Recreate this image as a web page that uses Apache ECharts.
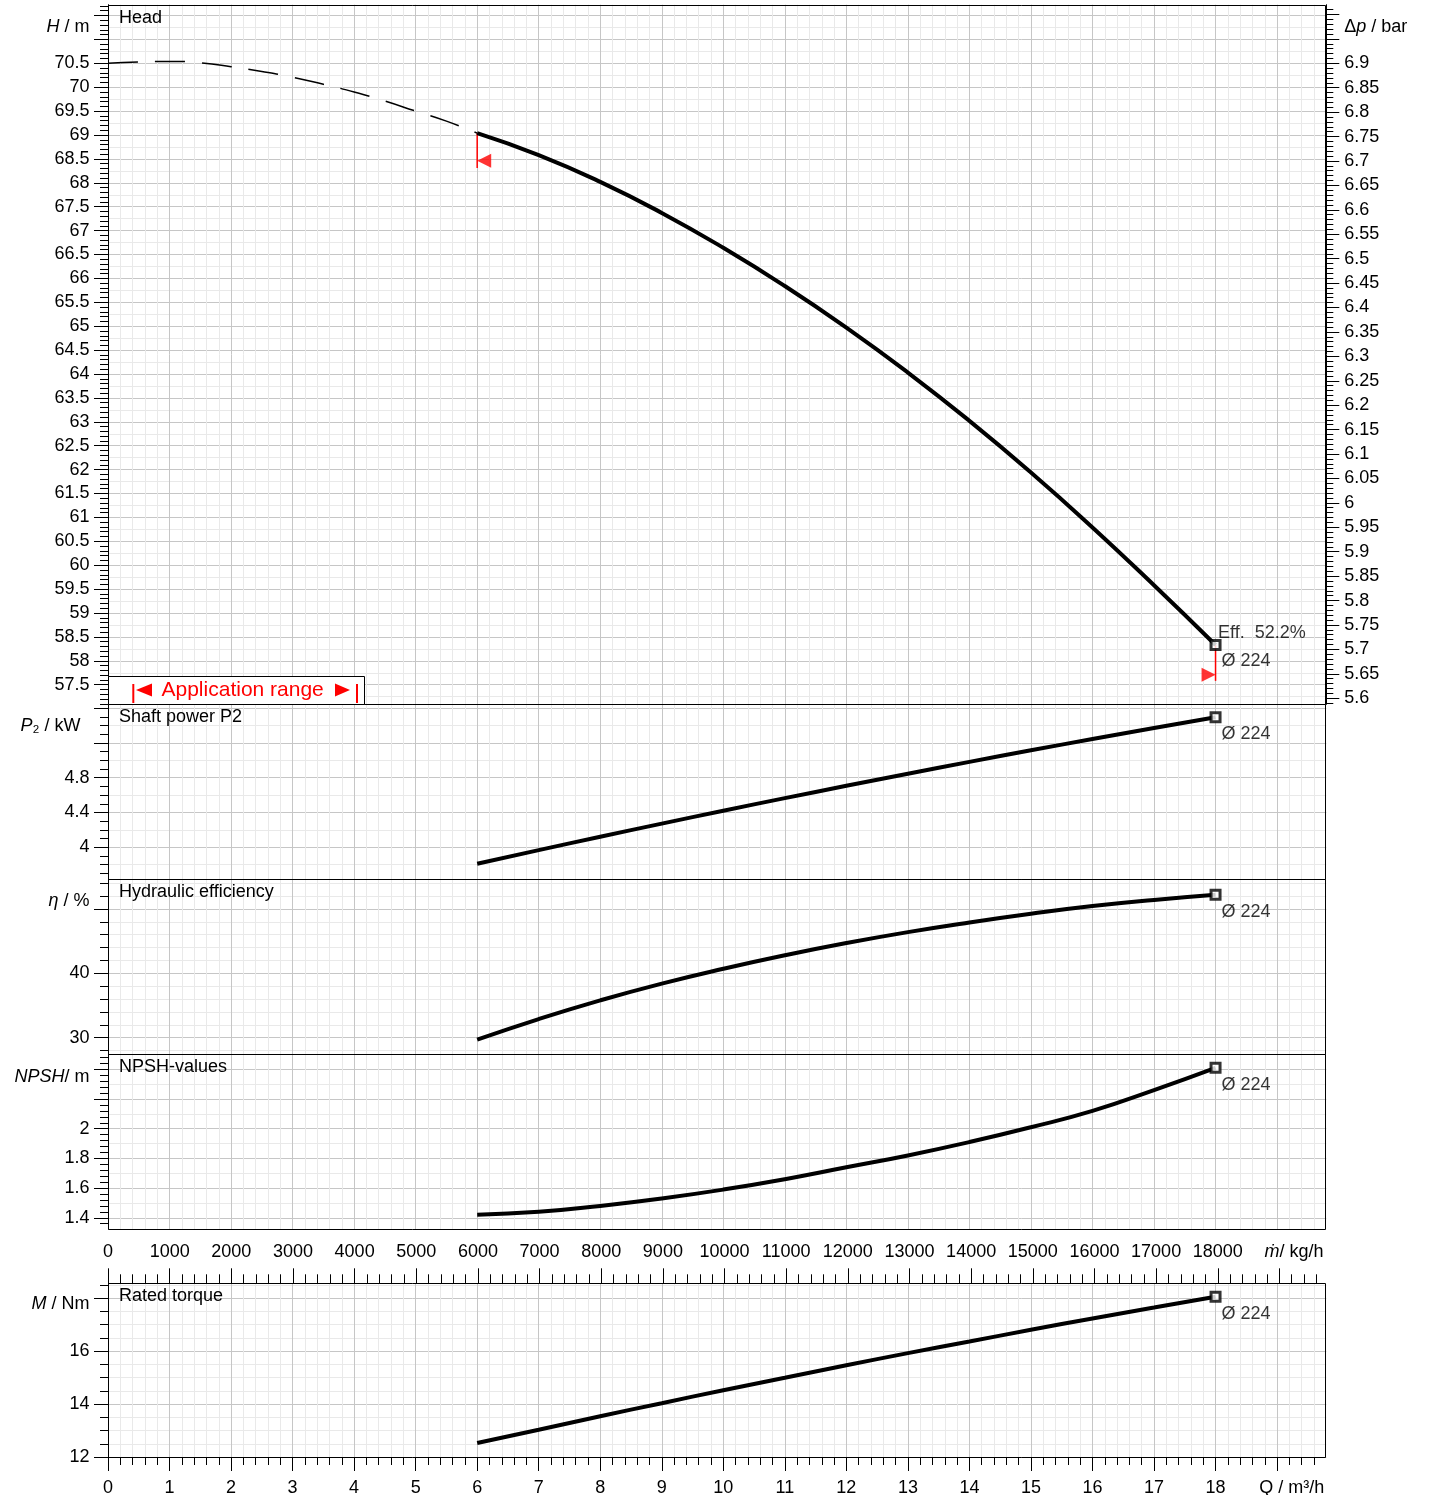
<!DOCTYPE html>
<html>
<head>
<meta charset="utf-8">
<script src="https://cdn.jsdelivr.net/npm/echarts@6/dist/echarts.min.js"></script>
<style>html,body{margin:0;padding:0;background:#fff}#c{width:1429px;height:1495px}</style>
</head>
<body>
<div id="c"></div>
<script>
function range(a, b, s) { const n = Math.round((b - a) / s); const out = []; for (let i = 0; i <= n; i++) out.push(+(a + i * s).toFixed(6)); return out; }
function minus(arr, ex) { return arr.filter(v => !ex.some(e => Math.abs(e - v) < 1e-9)); }
function fmt(v) { return String(+(+v).toFixed(4)); }
function pairs(xs, ys) { return xs.map((x, i) => [x, ys[i]]); }

// ---------------- data ----------------
const Q_DASHED = [0, 0.5, 1, 1.5, 2, 2.5, 3, 3.5, 4, 4.5, 5, 5.5, 6];
const H_DASHED = [70.50, 70.53, 70.54, 70.51, 70.43, 70.33, 70.21, 70.06, 69.90, 69.71, 69.50, 69.29, 69.04];
const Q_OP = [6, 7, 8, 9, 10, 11, 12, 13, 14, 15, 16, 17, 18];
const H_OP = [69.04, 68.58, 68.02, 67.37, 66.64, 65.84, 64.97, 64.03, 63.02, 61.94, 60.79, 59.58, 58.33];
const P2_OP = [3.81, 3.967, 4.121, 4.272, 4.420, 4.565, 4.707, 4.846, 4.982, 5.115, 5.245, 5.372, 5.496];
const ETA_OP = [29.7, 32.9, 35.8, 38.4, 40.7, 42.8, 44.7, 46.4, 47.9, 49.25, 50.45, 51.4, 52.2];
const NPSH_OP = [1.42, 1.44, 1.48, 1.53, 1.59, 1.66, 1.74, 1.82, 1.91, 2.01, 2.12, 2.26, 2.41];
const M_OP = [12.53, 13.03, 13.54, 14.03, 14.52, 14.99, 15.46, 15.92, 16.36, 16.80, 17.23, 17.64, 18.05];
const IMPELLER = 'Ø 224';
const EFF_AT_END = 52.2;
const APP_RANGE_Q = [6, 18];
const APP_TRI_H = [68.46, 57.71];
const APP_LINE_END_H = [68.31, 57.58];
const RHO = 998;               // kg/m³
const DP_PER_M = 6.9 / 70.5;   // bar per m of head

// tick labels
const H_LABELS = range(57.5, 70.5, 0.5);
const DP_LABELS = range(5.6, 6.9, 0.05);
const P2_LABELS = [4, 4.4, 4.8];
const ETA_LABELS = [30, 40];
const NPSH_LABELS = [1.4, 1.6, 1.8, 2];
const M_LABELS = [12, 14, 16];
const Q_LABELS = range(0, 18, 1);
const MDOT_LABELS = range(0, 18000, 1000);
const TITLES = ['Head', 'Shaft power P2', 'Hydraulic efficiency', 'NPSH-values', 'Rated torque'];

// ---------------- layout / style ----------------
const FONT = "'Liberation Sans', Arial, Helvetica, sans-serif";
const GRID_MAJOR = '#c6c6c6';
const GRID_MINOR = '#e9e9e9';
const L = 108, W = 1218.3;
const Q_MAX = 19.8;
const PANELS = [
  { top: 4.7, bottom: 704.3 },
  { top: 704.3, bottom: 879.3 },
  { top: 879.3, bottom: 1054 },
  { top: 1054, bottom: 1229 },
  { top: 1283.3, bottom: 1457 }
];
const RICH = {
  i: { fontStyle: 'italic', fontSize: 18, fontFamily: FONT, color: '#000' },
  sp: { width: 9, fontSize: 18 }
};

const Y_CFG = [
  { min: 57.09, max: 71.726, major: range(57.5, 71.5, 0.5), minorAll: range(57.1, 71.7, 0.1), labels: H_LABELS, nameVal: 71.26, nameText: '{i|H} / m', light: range(57.25, 71.25, 0.5) },
  { min: 3.632, max: 5.644, major: range(4.0, 5.6, 0.4), minorAll: range(3.7, 5.6, 0.1), labels: P2_LABELS, nameVal: 5.395, nameText: '{i|P}₂ / kW{sp| }', light: range(3.8, 5.4, 0.4) },
  { min: 27.47, max: 54.6, major: [30, 40, 50], minorAll: range(28, 54, 2), labels: ETA_LABELS, nameVal: 51.25, nameText: '{i|η} / %', light: minus(range(28, 54, 2), [30, 40, 50]) },
  { min: 1.3246, max: 2.503, major: range(1.4, 2.4, 0.2), minorAll: range(1.36, 2.48, 0.04), labels: NPSH_LABELS, nameVal: 2.348, nameText: '{i|NPSH}/ m', light: range(1.5, 2.3, 0.2) },
  { min: 12, max: 18.555, major: [12, 14, 16, 18], minorAll: range(12.5, 18.5, 0.5), labels: M_LABELS, nameVal: 17.78, nameText: '{i|M} / Nm', light: minus(range(12.5, 18.5, 0.5), [12, 14, 16, 18]) }
];

const xAxes = [], yAxes = [];
const xMaj = [], yMaj = [];

function baseAx(grid, min, max, pos) {
  return { type: 'value', gridIndex: grid, min: min, max: max, position: pos, axisLine: { show: false }, axisPointer: { show: false } };
}

// x axes (Q)
const Q_INT = range(0, 19, 1);
const Q_MINOR = minus(range(0, 19.6, 0.2), Q_INT);
const Q_NAME_POS = 19.24;
for (let p = 0; p < 5; p++) {
  const showT = p === 4;
  xAxes.push(Object.assign(baseAx(p, 0, Q_MAX, 'bottom'), {
    axisTick: { show: showT, customValues: Q_MINOR, length: 8, lineStyle: { color: '#000' } },
    axisLabel: { show: false },
    splitLine: { show: true, lineStyle: { color: GRID_MINOR, width: 1 } }
  }));
  xMaj[p] = xAxes.length;
  xAxes.push(Object.assign(baseAx(p, 0, Q_MAX, 'bottom'), {
    axisTick: { show: showT, customValues: Q_INT, length: 14, lineStyle: { color: '#000' } },
    axisLabel: {
      show: showT, customValues: Q_LABELS.concat([Q_NAME_POS]), margin: 22, color: '#000', fontSize: 18, fontFamily: FONT,
      formatter: v => Math.abs(v - Q_NAME_POS) < 1e-6 ? 'Q / m³/h' : fmt(v)
    },
    splitLine: { show: true, lineStyle: { color: GRID_MAJOR, width: 1 } }
  }));
}
// mass flow axis (top of torque panel)
const MDOT_MAJOR = range(0, 19000, 1000);
const MDOT_MINOR = minus(range(0, 19600, 200), MDOT_MAJOR);
const MDOT_NAME_POS = 19237;
xAxes.push(Object.assign(baseAx(4, 0, Q_MAX * RHO, 'top'), {
  axisTick: { show: true, customValues: MDOT_MINOR, length: 9, lineStyle: { color: '#000' } },
  axisLabel: { show: false }, splitLine: { show: false }
}));
xAxes.push(Object.assign(baseAx(4, 0, Q_MAX * RHO, 'top'), {
  axisTick: { show: true, customValues: MDOT_MAJOR, length: 15, lineStyle: { color: '#000' } },
  axisLabel: {
    show: true, customValues: MDOT_LABELS.concat([MDOT_NAME_POS]), margin: 22, color: '#000', fontSize: 18, fontFamily: FONT, rich: RICH,
    formatter: v => Math.abs(v - MDOT_NAME_POS) < 1e-6 ? '{i|ṁ}/ kg/h' : fmt(v)
  },
  splitLine: { show: false }
}));

// y axes
Y_CFG.forEach((c, p) => {
  yAxes.push(Object.assign(baseAx(p, c.min, c.max, 'left'), {
    axisTick: { show: false, customValues: c.light }, axisLabel: { show: false },
    splitLine: { show: true, lineStyle: { color: GRID_MINOR, width: 1 } }
  }));
  yAxes.push(Object.assign(baseAx(p, c.min, c.max, 'left'), {
    axisTick: { show: true, customValues: minus(c.minorAll, c.major), length: 8, lineStyle: { color: '#000' } },
    axisLabel: { show: false }, splitLine: { show: false }
  }));
  yMaj[p] = yAxes.length;
  yAxes.push(Object.assign(baseAx(p, c.min, c.max, 'left'), {
    axisLine: { show: true, lineStyle: { color: '#000' } },
    axisTick: { show: true, customValues: c.major, length: 14, lineStyle: { color: '#000' } },
    axisLabel: {
      show: true, customValues: c.labels.concat([c.nameVal]), margin: 18.5, color: '#000', fontSize: 18, fontFamily: FONT, rich: RICH,
      formatter: v => Math.abs(v - c.nameVal) < 1e-6 ? c.nameText : fmt(v)
    },
    splitLine: { show: true, lineStyle: { color: GRID_MAJOR, width: 1 } }
  }));
});
// Δp axis (right of head panel)
const DP_MIN = Y_CFG[0].min * DP_PER_M, DP_MAX = Y_CFG[0].max * DP_PER_M;
const DP_MAJOR = range(5.6, 7.0, 0.05);
const DP_NAME_POS = 6.974;
yAxes.push(Object.assign(baseAx(0, DP_MIN, DP_MAX, 'right'), {
  axisTick: { show: true, customValues: minus(range(5.59, 7.02, 0.01), DP_MAJOR), length: 7, lineStyle: { color: '#000' } },
  axisLabel: { show: false }, splitLine: { show: false }
}));
yAxes.push(Object.assign(baseAx(0, DP_MIN, DP_MAX, 'right'), {
  axisLine: { show: true, lineStyle: { color: '#000' } },
  axisTick: { show: true, customValues: DP_MAJOR, length: 13, lineStyle: { color: '#000' } },
  axisLabel: {
    show: true, customValues: DP_LABELS.concat([DP_NAME_POS]), margin: 18, color: '#000', fontSize: 18, fontFamily: FONT, rich: RICH,
    formatter: v => Math.abs(v - DP_NAME_POS) < 1e-6 ? 'Δ{i|p} / bar' : fmt(v)
  },
  splitLine: { show: false }
}));

// ---------------- series ----------------
const endLabel = { show: true, position: 'right', distance: 0, offset: [0, 17], formatter: IMPELLER, color: '#000', fontSize: 18, fontFamily: FONT };
function curve(p, ys) {
  return { type: 'line', xAxisIndex: xMaj[p], yAxisIndex: yMaj[p], data: pairs(Q_OP, ys), smooth: true, symbol: 'none', lineStyle: { color: '#000', width: 4 }, z: 6, silent: true };
}
function endMark(p, ys, label) {
  return { type: 'scatter', xAxisIndex: xMaj[p], yAxisIndex: yMaj[p], data: [[Q_OP[Q_OP.length - 1], ys[ys.length - 1]]], symbol: 'rect', symbolSize: 9,
    itemStyle: { color: '#fff', borderColor: '#000', borderWidth: 3 }, label: label || endLabel, z: 10, silent: true };
}
const series = [
  { type: 'line', xAxisIndex: xMaj[0], yAxisIndex: yMaj[0], data: pairs(Q_DASHED, H_DASHED), smooth: true, symbol: 'none', lineStyle: { color: '#000', width: 1.5, type: [30, 17] }, z: 5, silent: true },
  curve(0, H_OP),
  { type: 'line', xAxisIndex: xMaj[0], yAxisIndex: yMaj[0], data: [[APP_RANGE_Q[0], H_OP[0]], [APP_RANGE_Q[0], APP_LINE_END_H[0]]], symbol: 'none', lineStyle: { color: '#ff0000', width: 1.5 }, z: 4, silent: true },
  { type: 'line', xAxisIndex: xMaj[0], yAxisIndex: yMaj[0], data: [[APP_RANGE_Q[1], H_OP[H_OP.length - 1]], [APP_RANGE_Q[1], APP_LINE_END_H[1]]], symbol: 'none', lineStyle: { color: '#ff0000', width: 1.5 }, z: 4, silent: true },
  { type: 'scatter', xAxisIndex: xMaj[0], yAxisIndex: yMaj[0], data: [[APP_RANGE_Q[0], APP_TRI_H[0]]], symbol: 'triangle', symbolRotate: 90, symbolSize: 14, symbolOffset: [7, 0], itemStyle: { color: '#ff0000' }, z: 7, silent: true },
  { type: 'scatter', xAxisIndex: xMaj[0], yAxisIndex: yMaj[0], data: [[APP_RANGE_Q[1], APP_TRI_H[1]]], symbol: 'triangle', symbolRotate: -90, symbolSize: 14, symbolOffset: [-7, 0], itemStyle: { color: '#ff0000' }, z: 7, silent: true },
  endMark(0, H_OP, {
    show: true, position: 'right', distance: 0, offset: [-3.5, 2],
    formatter: '{a|Eff.  ' + EFF_AT_END.toFixed(1) + '%}\n{b|' + IMPELLER + '}',
    rich: { a: { fontSize: 18, fontFamily: FONT, color: '#000', lineHeight: 28 }, b: { fontSize: 18, fontFamily: FONT, color: '#000', lineHeight: 28, padding: [0, 0, 0, 3.5] } }
  }),
  curve(1, P2_OP), endMark(1, P2_OP),
  curve(2, ETA_OP), endMark(2, ETA_OP),
  curve(3, NPSH_OP), endMark(3, NPSH_OP),
  curve(4, M_OP), endMark(4, M_OP)
];

// ---------------- graphic (frames, titles, application range box) ----------------
const graphic = [];
PANELS.forEach((pn, i) => {
  graphic.push({ type: 'rect', silent: true, z: 50, shape: { x: L + 0.5, y: Math.round(pn.top) + 0.5, width: Math.round(W) - 1, height: Math.round(pn.bottom) - Math.round(pn.top) },
    style: { fill: 'none', stroke: '#000', lineWidth: 1 } });
  graphic.push({ type: 'text', silent: true, z: 51, x: 119, y: pn.top + 13,
    style: { text: TITLES[i], fontSize: 18, fontFamily: FONT, fill: '#000', verticalAlign: 'middle', align: 'left' } });
});
graphic.push({ type: 'rect', silent: true, z: 55, shape: { x: 108.5, y: 676.5, width: 256, height: 28 }, style: { fill: '#fff', stroke: '#000', lineWidth: 1 } });
graphic.push({ type: 'line', silent: true, z: 56, shape: { x1: 133.3, y1: 684, x2: 133.3, y2: 703 }, style: { stroke: '#ff0000', lineWidth: 2 } });
graphic.push({ type: 'line', silent: true, z: 56, shape: { x1: 357, y1: 684, x2: 357, y2: 703 }, style: { stroke: '#ff0000', lineWidth: 2 } });
graphic.push({ type: 'polygon', silent: true, z: 56, shape: { points: [[136, 690], [152, 683.5], [152, 696.5]] }, style: { fill: '#ff0000' } });
graphic.push({ type: 'polygon', silent: true, z: 56, shape: { points: [[350, 690], [335, 683.5], [335, 696.5]] }, style: { fill: '#ff0000' } });
graphic.push({ type: 'text', silent: true, z: 56, x: 161.5, y: 690, style: { text: 'Application range', fontSize: 21, fontFamily: FONT, fill: '#ff0000', verticalAlign: 'middle', align: 'left' } });

const option = {
  animation: false,
  backgroundColor: '#fff',
  grid: PANELS.map(pn => ({ left: L, width: W, top: pn.top, height: pn.bottom - pn.top, show: false, containLabel: false, outerBoundsMode: 'none' })),
  xAxis: xAxes,
  yAxis: yAxes,
  series: series,
  graphic: graphic
};
const chart = echarts.init(document.getElementById('c'), null, { renderer: 'canvas', width: 1429, height: 1495 });
chart.setOption(option);
</script>
</body>
</html>
